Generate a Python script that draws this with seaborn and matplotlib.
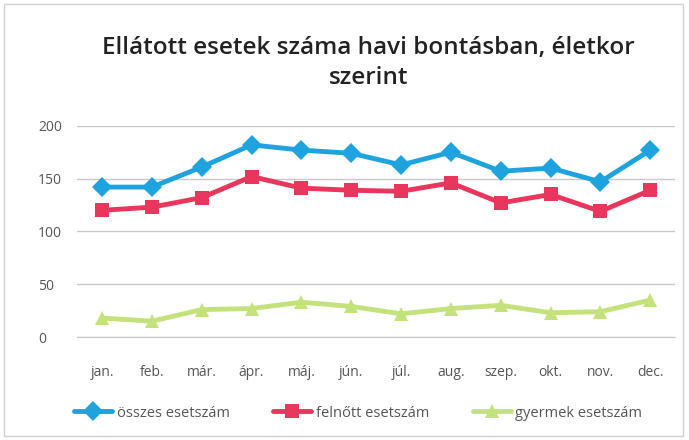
import pandas as pd
import matplotlib.pyplot as plt
import seaborn as sns
from matplotlib.patches import Rectangle

months = ['jan.', 'feb.', 'már.', 'ápr.', 'máj.', 'jún.', 'júl.', 'aug.', 'szep.', 'okt.', 'nov.', 'dec.']
osszes = [142, 142, 161, 182, 177, 174, 163, 175, 157, 160, 147, 177]
felnott = [120, 123, 132, 152, 141, 139, 138, 146, 127, 135, 119, 139]
gyermek = [18, 15, 26, 27, 33, 29, 22, 27, 30, 23, 24, 35]
series_names = ['összes esetszám', 'felnőtt esetszám', 'gyermek esetszám']

df = pd.DataFrame({'month': months * 3,
                   'value': osszes + felnott + gyermek,
                   'series': [n for n in series_names for _ in months]})

sns.set_style('white')
plt.rcParams['font.family'] = ['Open Sans', 'DejaVu Sans']

colors = {'összes esetszám': '#1fa3df', 'felnőtt esetszám': '#e8365c', 'gyermek esetszám': '#c4e27c'}
markers = {'összes esetszám': 'D', 'felnőtt esetszám': 's', 'gyermek esetszám': '^'}

fig = plt.figure(figsize=(6.89, 4.4), dpi=100)
ax = fig.add_axes([0.112, 0.234, 0.868, 0.48])
sns.lineplot(data=df, x='month', y='value', hue='series', style='series',
             palette=colors, markers=markers, dashes=False, sort=False,
             linewidth=3.5, markersize=10, markeredgewidth=0, ax=ax)

ax.set_xlim(-0.5, 11.5)
ax.set_ylim(0, 200)
ax.set_yticks([0, 50, 100, 150, 200])
ax.yaxis.grid(True, color='#c8c8c8', linewidth=1)
ax.set_axisbelow(True)
for s in ['top', 'right', 'left']:
    ax.spines[s].set_visible(False)
ax.spines['bottom'].set_color('#c8c8c8')
ax.tick_params(axis='x', length=0, colors='#555555', labelsize=10, pad=20)
ax.tick_params(axis='y', length=0, colors='#555555', labelsize=10, pad=28)
for t in ax.get_yticklabels():
    t.set_horizontalalignment('left')
ax.set_xlabel('')
ax.set_ylabel('')

fig.text(0.535, 0.89, 'Ellátott esetek száma havi bontásban, életkor', ha='center',
         va='center', fontsize=17.5, fontweight='semibold', color='#222222')
fig.text(0.535, 0.822, 'szerint', ha='center', va='center', fontsize=17.5,
         fontweight='semibold', color='#222222')

ax.legend(loc='center', bbox_to_anchor=(0.47, -0.36), ncol=3, frameon=False,
          fontsize=10.5, handlelength=2.6, handletextpad=0.3, columnspacing=3,
          labelcolor='#555555')

fig.patches.append(Rectangle((0.006, 0.01), 0.985, 0.98, transform=fig.transFigure,
                             fill=False, edgecolor='#d0d0d0', linewidth=1))

fig.savefig('out.png', dpi=100)
